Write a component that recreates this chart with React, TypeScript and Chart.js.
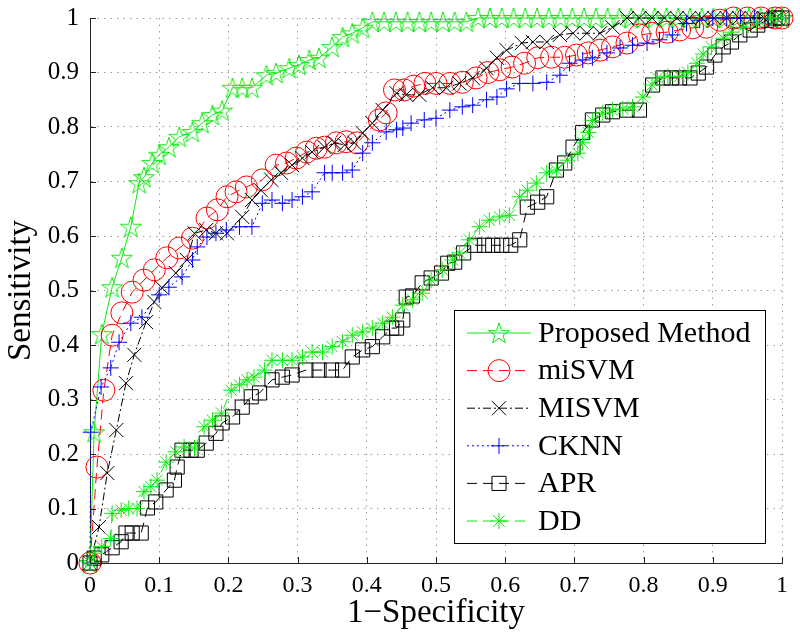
import React, { useEffect, useRef } from 'react';
import { Chart, registerables } from 'chart.js';

Chart.register(...registerables);

const xTickLabels = ['0', '0.1', '0.2', '0.3', '0.4', '0.5', '0.6', '0.7', '0.8', '0.9', '1'];
const yTickLabels = ['0', '0.1', '0.2', '0.3', '0.4', '0.5', '0.6', '0.7', '0.8', '0.9', '1'];
const xAxisTitle = '1\u2212Specificity';
const yAxisTitle = 'Sensitivity';

const seriesNames = ['Proposed Method', 'miSVM', 'MISVM', 'CKNN', 'APR', 'DD'];

const proposedX = [0, 0.006, 0.017, 0.032, 0.046, 0.059, 0.071, 0.078, 0.09, 0.1, 0.114, 0.129, 0.148, 0.162, 0.177, 0.191, 0.206, 0.22, 0.234, 0.255, 0.269, 0.288, 0.302, 0.317, 0.331, 0.35, 0.365, 0.379, 0.394, 0.408, 0.425, 0.442, 0.459, 0.476, 0.493, 0.51, 0.527, 0.544, 0.561, 0.578, 0.595, 0.612, 0.629, 0.646, 0.663, 0.68, 0.697, 0.714, 0.731, 0.748, 0.765, 0.782, 0.799, 0.816, 0.833, 0.85, 0.867, 0.884, 0.901, 0.918, 0.935, 0.952, 0.969, 0.986, 1];
const proposedY = [0, 0.24, 0.42, 0.506, 0.56, 0.617, 0.697, 0.708, 0.734, 0.749, 0.763, 0.782, 0.791, 0.807, 0.822, 0.83, 0.872, 0.872, 0.872, 0.895, 0.899, 0.908, 0.914, 0.923, 0.927, 0.947, 0.965, 0.972, 0.982, 0.993, 0.993, 0.993, 0.993, 0.993, 0.993, 0.993, 0.993, 0.993, 1, 1, 1, 1, 1, 1, 1, 1, 1, 1, 1, 1, 1, 1, 1, 1, 1, 1, 1, 1, 1, 1, 1, 1, 1, 1, 1];

const misvmLowX = [0, 0.01, 0.02, 0.032, 0.046, 0.061, 0.078, 0.093, 0.111, 0.129, 0.148, 0.169, 0.184, 0.198, 0.211, 0.226, 0.249, 0.269, 0.284, 0.298, 0.313, 0.327, 0.339, 0.356, 0.37, 0.386, 0.418, 0.428, 0.44, 0.454, 0.468, 0.484, 0.5, 0.52, 0.538, 0.558, 0.575, 0.592, 0.61, 0.628, 0.647, 0.667, 0.686, 0.703, 0.72, 0.737, 0.755, 0.776, 0.794, 0.813, 0.834, 0.852, 0.871, 0.891, 0.91, 0.93, 0.95, 0.97, 0.99, 1];
const misvmLowY = [0, 0.176, 0.317, 0.418, 0.459, 0.497, 0.519, 0.538, 0.56, 0.578, 0.596, 0.633, 0.648, 0.672, 0.681, 0.69, 0.703, 0.73, 0.734, 0.743, 0.754, 0.761, 0.763, 0.771, 0.773, 0.771, 0.813, 0.826, 0.868, 0.868, 0.875, 0.88, 0.88, 0.88, 0.882, 0.89, 0.9, 0.905, 0.91, 0.917, 0.927, 0.928, 0.928, 0.932, 0.936, 0.941, 0.947, 0.954, 0.969, 0.972, 0.974, 0.978, 0.982, 0.983, 0.996, 1, 1, 1, 1, 1];

const misvmUpX = [0, 0.013, 0.025, 0.038, 0.052, 0.064, 0.081, 0.093, 0.104, 0.124, 0.14, 0.151, 0.168, 0.182, 0.198, 0.22, 0.234, 0.247, 0.262, 0.276, 0.292, 0.307, 0.321, 0.339, 0.353, 0.368, 0.382, 0.394, 0.408, 0.423, 0.443, 0.457, 0.476, 0.495, 0.515, 0.534, 0.553, 0.573, 0.588, 0.602, 0.624, 0.64, 0.66, 0.679, 0.698, 0.718, 0.737, 0.755, 0.776, 0.794, 0.812, 0.83, 0.848, 0.866, 0.884, 0.902, 0.92, 0.938, 0.956, 0.974, 0.992, 1];
const misvmUpY = [0, 0.066, 0.165, 0.244, 0.33, 0.382, 0.442, 0.479, 0.505, 0.532, 0.556, 0.605, 0.611, 0.605, 0.605, 0.635, 0.666, 0.684, 0.703, 0.716, 0.73, 0.743, 0.754, 0.763, 0.771, 0.767, 0.771, 0.789, 0.807, 0.831, 0.862, 0.859, 0.859, 0.872, 0.872, 0.88, 0.89, 0.908, 0.927, 0.941, 0.954, 0.956, 0.956, 0.969, 0.972, 0.972, 0.972, 0.983, 1, 1, 1, 1, 1, 1, 1, 1, 1, 1, 1, 1, 1, 1];

const cknnX = [0, 0.001, 0.016, 0.03, 0.042, 0.059, 0.075, 0.1, 0.114, 0.133, 0.148, 0.155, 0.169, 0.182, 0.197, 0.216, 0.234, 0.249, 0.263, 0.278, 0.292, 0.307, 0.321, 0.339, 0.35, 0.365, 0.379, 0.394, 0.408, 0.428, 0.443, 0.452, 0.464, 0.483, 0.5, 0.52, 0.538, 0.553, 0.573, 0.588, 0.602, 0.621, 0.64, 0.66, 0.679, 0.693, 0.712, 0.726, 0.747, 0.766, 0.784, 0.805, 0.823, 0.842, 0.862, 0.881, 0.9, 0.92, 0.94, 0.96, 0.98, 1];
const cknnY = [0, 0.24, 0.323, 0.358, 0.405, 0.44, 0.451, 0.492, 0.506, 0.525, 0.556, 0.58, 0.598, 0.605, 0.611, 0.617, 0.617, 0.66, 0.666, 0.66, 0.666, 0.672, 0.681, 0.716, 0.716, 0.716, 0.721, 0.752, 0.771, 0.791, 0.795, 0.798, 0.807, 0.813, 0.816, 0.831, 0.837, 0.84, 0.85, 0.855, 0.87, 0.88, 0.88, 0.882, 0.895, 0.917, 0.923, 0.927, 0.936, 0.945, 0.95, 0.954, 0.96, 0.969, 0.99, 0.996, 1, 1, 1, 1, 1, 1];

const aprX = [0, 0.006, 0.017, 0.032, 0.045, 0.052, 0.061, 0.074, 0.083, 0.095, 0.11, 0.122, 0.126, 0.133, 0.146, 0.155, 0.168, 0.182, 0.191, 0.206, 0.22, 0.233, 0.245, 0.263, 0.278, 0.292, 0.312, 0.331, 0.349, 0.365, 0.379, 0.394, 0.408, 0.423, 0.436, 0.443, 0.452, 0.457, 0.466, 0.48, 0.493, 0.508, 0.517, 0.527, 0.54, 0.556, 0.57, 0.582, 0.595, 0.608, 0.621, 0.632, 0.647, 0.66, 0.674, 0.686, 0.698, 0.712, 0.726, 0.741, 0.755, 0.776, 0.794, 0.813, 0.828, 0.84, 0.852, 0.867, 0.879, 0.891, 0.903, 0.915, 0.927, 0.939, 0.954, 0.965, 0.978, 0.99, 1];
const aprY = [0, 0.009, 0.015, 0.028, 0.039, 0.055, 0.055, 0.055, 0.101, 0.112, 0.134, 0.152, 0.176, 0.207, 0.207, 0.207, 0.22, 0.238, 0.257, 0.268, 0.286, 0.305, 0.312, 0.336, 0.341, 0.345, 0.354, 0.354, 0.354, 0.354, 0.378, 0.391, 0.397, 0.415, 0.431, 0.431, 0.446, 0.488, 0.49, 0.514, 0.523, 0.532, 0.55, 0.552, 0.569, 0.583, 0.583, 0.583, 0.583, 0.583, 0.593, 0.653, 0.662, 0.672, 0.721, 0.734, 0.763, 0.79, 0.813, 0.822, 0.828, 0.831, 0.831, 0.877, 0.89, 0.89, 0.89, 0.89, 0.899, 0.91, 0.932, 0.947, 0.956, 0.969, 0.978, 0.987, 0.996, 1, 1];

const ddX = [0, 0.006, 0.017, 0.03, 0.032, 0.045, 0.056, 0.068, 0.078, 0.088, 0.097, 0.11, 0.124, 0.136, 0.151, 0.165, 0.177, 0.19, 0.204, 0.216, 0.227, 0.237, 0.252, 0.263, 0.278, 0.292, 0.307, 0.321, 0.336, 0.35, 0.365, 0.379, 0.394, 0.408, 0.423, 0.437, 0.452, 0.466, 0.48, 0.493, 0.509, 0.524, 0.534, 0.548, 0.563, 0.577, 0.592, 0.606, 0.621, 0.632, 0.645, 0.66, 0.674, 0.69, 0.705, 0.712, 0.72, 0.726, 0.741, 0.755, 0.77, 0.784, 0.799, 0.812, 0.82, 0.835, 0.852, 0.864, 0.877, 0.886, 0.898, 0.915, 0.927, 0.944, 0.963, 0.983, 1];
const ddY = [0, 0.018, 0.03, 0.045, 0.091, 0.097, 0.1, 0.1, 0.131, 0.14, 0.152, 0.185, 0.204, 0.213, 0.211, 0.25, 0.262, 0.275, 0.317, 0.327, 0.336, 0.341, 0.354, 0.372, 0.372, 0.372, 0.378, 0.387, 0.387, 0.397, 0.406, 0.418, 0.424, 0.431, 0.44, 0.451, 0.473, 0.483, 0.495, 0.519, 0.538, 0.556, 0.569, 0.593, 0.617, 0.629, 0.635, 0.638, 0.672, 0.684, 0.697, 0.716, 0.721, 0.739, 0.752, 0.771, 0.79, 0.812, 0.826, 0.831, 0.833, 0.837, 0.855, 0.877, 0.89, 0.893, 0.893, 0.9, 0.917, 0.934, 0.947, 0.963, 0.974, 0.983, 0.99, 1, 1];

const GREEN = '#10e810';
const SERIF = "'Liberation Serif', 'Times New Roman', serif";

type Marker = 'pentagram' | 'circle' | 'crossRot' | 'cross' | 'rect' | 'star';

interface SeriesStyle {
  color: string;
  dash: number[];
  marker: Marker;
  radius: number;
}

const styles: SeriesStyle[] = [
  { color: GREEN, dash: [], marker: 'pentagram', radius: 11 },
  { color: '#ff0000', dash: [10, 6], marker: 'circle', radius: 11 },
  { color: '#000000', dash: [8, 3, 2, 3], marker: 'crossRot', radius: 10 },
  { color: '#0000ff', dash: [2, 3], marker: 'cross', radius: 8 },
  { color: '#000000', dash: [10, 6], marker: 'rect', radius: 10 },
  { color: GREEN, dash: [10, 6], marker: 'star', radius: 8 },
];

const seriesX = [proposedX, misvmLowX, misvmUpX, cknnX, aprX, ddX];
const seriesY = [proposedY, misvmLowY, misvmUpY, cknnY, aprY, ddY];

function pentagramPath(ctx: CanvasRenderingContext2D, cx: number, cy: number, r: number) {
  const inner = r * 0.382;
  ctx.beginPath();
  for (let i = 0; i < 10; i++) {
    const rr = i % 2 === 0 ? r : inner;
    const a = -Math.PI / 2 + (i * Math.PI) / 5;
    const px = cx + rr * Math.cos(a);
    const py = cy + rr * Math.sin(a);
    if (i === 0) ctx.moveTo(px, py);
    else ctx.lineTo(px, py);
  }
  ctx.closePath();
}

function makePentagram(r: number, color: string): HTMLCanvasElement {
  const c = document.createElement('canvas');
  const size = Math.ceil(2 * r + 4);
  c.width = size;
  c.height = size;
  const ctx = c.getContext('2d')!;
  ctx.strokeStyle = color;
  ctx.lineWidth = 1;
  pentagramPath(ctx, size / 2, size / 2 + 1, r);
  ctx.stroke();
  return c;
}

function drawMarker(ctx: CanvasRenderingContext2D, m: Marker, x: number, y: number, r: number, color: string) {
  ctx.save();
  ctx.setLineDash([]);
  ctx.strokeStyle = color;
  ctx.lineWidth = 1;
  ctx.beginPath();
  if (m === 'pentagram') {
    pentagramPath(ctx, x, y + 1, r);
  } else if (m === 'circle') {
    ctx.arc(x, y, r, 0, Math.PI * 2);
  } else if (m === 'crossRot') {
    const o = r * Math.SQRT1_2;
    ctx.moveTo(x - o, y - o); ctx.lineTo(x + o, y + o);
    ctx.moveTo(x - o, y + o); ctx.lineTo(x + o, y - o);
  } else if (m === 'cross') {
    ctx.moveTo(x - r, y); ctx.lineTo(x + r, y);
    ctx.moveTo(x, y - r); ctx.lineTo(x, y + r);
  } else if (m === 'rect') {
    const s = r * Math.SQRT1_2;
    ctx.rect(x - s, y - s, 2 * s, 2 * s);
  } else if (m === 'star') {
    const o = r * Math.SQRT1_2;
    ctx.moveTo(x - r, y); ctx.lineTo(x + r, y);
    ctx.moveTo(x, y - r); ctx.lineTo(x, y + r);
    ctx.moveTo(x - o, y - o); ctx.lineTo(x + o, y + o);
    ctx.moveTo(x - o, y + o); ctx.lineTo(x + o, y - o);
  }
  ctx.stroke();
  ctx.restore();
}

const inwardTicks = {
  id: 'inwardTicks',
  afterDatasetsDraw(chart: any) {
    const { ctx, chartArea, scales } = chart;
    const xs = scales.x;
    const ys = scales.y;
    ctx.save();
    ctx.strokeStyle = '#222';
    ctx.lineWidth = 1;
    ctx.setLineDash([]);
    xs.ticks.forEach((t: any) => {
      const px = Math.round(xs.getPixelForValue(t.value)) + 0.5;
      ctx.beginPath();
      ctx.moveTo(px, chartArea.bottom);
      ctx.lineTo(px, chartArea.bottom - 6);
      ctx.stroke();
    });
    ys.ticks.forEach((t: any) => {
      const py = Math.round(ys.getPixelForValue(t.value)) + 0.5;
      ctx.beginPath();
      ctx.moveTo(chartArea.left, py);
      ctx.lineTo(chartArea.left + 6, py);
      ctx.stroke();
    });
    ctx.restore();
  },
};

const matlabLegend = {
  id: 'matlabLegend',
  afterDraw(chart: any) {
    const { ctx, chartArea } = chart;
    const left = chartArea.right - 328;
    const top = chartArea.bottom - 253;
    const w = 311;
    const h = 233;
    ctx.save();
    ctx.fillStyle = '#ffffff';
    ctx.fillRect(left, top, w, h);
    ctx.strokeStyle = '#000';
    ctx.lineWidth = 1;
    ctx.setLineDash([]);
    ctx.strokeRect(left + 0.5, top + 0.5, w, h);
    ctx.font = `30px ${SERIF}`;
    ctx.textBaseline = 'middle';
    ctx.textAlign = 'left';
    seriesNames.forEach((name, i) => {
      const st = styles[i];
      const cy = top + 23 + i * 37.6;
      ctx.save();
      ctx.strokeStyle = st.color;
      ctx.lineWidth = 1;
      ctx.setLineDash(st.dash);
      ctx.beginPath();
      ctx.moveTo(left + 13, cy);
      ctx.lineTo(left + 77, cy);
      ctx.stroke();
      ctx.restore();
      drawMarker(ctx, st.marker, left + 45, cy, st.radius, st.color);
      ctx.fillStyle = '#000';
      ctx.fillText(name, left + 84, cy + 1);
    });
    ctx.restore();
  },
};

export default function App() {
  const canvasRef = useRef<HTMLCanvasElement | null>(null);

  useEffect(() => {
    if (!canvasRef.current) return;
    const pent = makePentagram(11, GREEN);
    const datasets = seriesNames.map((name, i) => {
      const st = styles[i];
      const xs = seriesX[i];
      const ys = seriesY[i];
      return {
        label: name,
        data: xs.map((x, j) => ({ x, y: ys[j] })),
        showLine: true,
        borderColor: st.color,
        backgroundColor: 'rgba(0,0,0,0)',
        borderWidth: 1,
        borderDash: st.dash,
        pointStyle: st.marker === 'pentagram' ? pent : st.marker,
        pointRadius: st.radius,
        pointBorderColor: st.color,
        pointBackgroundColor: 'rgba(0,0,0,0)',
        pointBorderWidth: 1,
        tension: 0,
        fill: false,
        clip: false,
        order: seriesNames.length - i,
      };
    });

    const chart = new Chart(canvasRef.current, {
      type: 'scatter',
      data: { datasets: datasets as any },
      options: {
        responsive: false,
        animation: false,
        events: [],
        layout: { padding: { top: 18, right: 18, left: 0, bottom: 0 } },
        plugins: {
          legend: { display: false },
          tooltip: { enabled: false },
        },
        scales: {
          x: {
            type: 'linear',
            min: 0,
            max: 1,
            afterFit: (s: any) => { s.height = 75; s.paddingLeft = 4; s.paddingRight = 4; },
            grid: { color: '#9a9a9a', lineWidth: 1, drawTicks: false },
            border: { display: true, color: '#222', width: 1, dash: [1.5, 5] },
            ticks: {
              stepSize: 0.1,
              autoSkip: false,
              maxRotation: 0,
              padding: 8,
              color: '#000',
              font: { family: SERIF, size: 24 },
              callback: (_v: any, i: number) => xTickLabels[i],
            },
            title: {
              display: true,
              text: xAxisTitle,
              color: '#000',
              font: { family: SERIF, size: 33 },
              padding: { top: 0, bottom: 5 },
            },
          },
          y: {
            type: 'linear',
            min: 0,
            max: 1,
            afterFit: (s: any) => { s.width = 90; s.paddingTop = 4; s.paddingBottom = 4; },
            grid: { color: '#9a9a9a', lineWidth: 1, drawTicks: false },
            border: { display: true, color: '#222', width: 1, dash: [1.5, 5] },
            ticks: {
              stepSize: 0.1,
              autoSkip: false,
              padding: 11,
              color: '#000',
              font: { family: SERIF, size: 25 },
              callback: (_v: any, i: number) => yTickLabels[i],
            },
            title: {
              display: true,
              text: yAxisTitle,
              color: '#000',
              font: { family: SERIF, size: 33 },
              padding: { top: 2, bottom: 0 },
            },
          },
        },
      },
      plugins: [inwardTicks, matlabLegend],
    });
    return () => chart.destroy();
  }, []);

  return (
    <div style={{ position: 'fixed', left: 0, top: 0, width: 800, height: 638, background: '#fff' }}>
      <canvas ref={canvasRef} width={800} height={638} style={{ display: 'block', width: 800, height: 638 }} />
    </div>
  );
}
